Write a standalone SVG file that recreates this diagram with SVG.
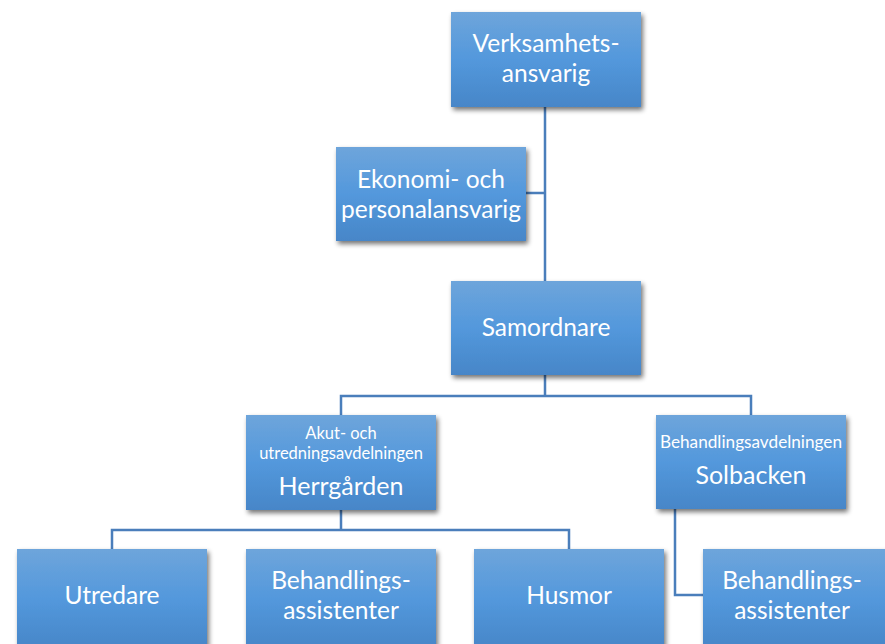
<svg xmlns="http://www.w3.org/2000/svg" width="885" height="644" viewBox="0 0 885 644">
<defs>
<linearGradient id="g" x1="0" y1="0" x2="0" y2="1">
<stop offset="0" stop-color="#6ea5db"/>
<stop offset="0.5" stop-color="#5398dc"/>
<stop offset="1" stop-color="#4786c8"/>
</linearGradient>
<filter id="sh" x="-10%" y="-10%" width="125%" height="130%">
<feGaussianBlur in="SourceAlpha" stdDeviation="2.5"/>
<feOffset dx="2" dy="3" result="b"/>
<feComponentTransfer><feFuncA type="linear" slope="0.55"/></feComponentTransfer>
<feMerge><feMergeNode/><feMergeNode in="SourceGraphic"/></feMerge>
</filter>
</defs>
<style>
.box{fill:url(#g);filter:url(#sh)}
.t{font-family:Lato,"Open Sans",sans-serif;fill:#fff;text-anchor:middle;font-size:24.5px}
.s{font-size:16.5px}
.m{font-size:25px}
.c{fill:none;stroke:#4a7ebb;stroke-width:2.5}
</style>
<rect width="885" height="644" fill="#fff"/>
<g id="connectors">
<path class="c" d="M545 107V281M526 193H545"/>
<path class="c" d="M545 375V396M341 415V396H751V415"/>
<path class="c" d="M341 510V530M112 549V530H569V549"/>
<path class="c" d="M675 509V595H703"/>
</g>
<g id="verksamhet">
<rect class="box" x="451" y="12" width="190" height="95"/>
<text class="t" x="546" y="52">Verksamhets-</text>
<text class="t" x="546" y="82">ansvarig</text>
</g>
<g id="ekonomi">
<rect class="box" x="336" y="147" width="190" height="94"/>
<text class="t" x="431" y="188">Ekonomi- och</text>
<text class="t" x="431" y="218">personalansvarig</text>
</g>
<g id="samordnare">
<rect class="box" x="451" y="281" width="190" height="94"/>
<text class="t" x="546" y="336">Samordnare</text>
</g>
<g id="herrgarden">
<rect class="box" x="246" y="415" width="190" height="95"/>
<text class="t s" x="341" y="439">Akut- och</text>
<text class="t s" x="341" y="459">utredningsavdelningen</text>
<text class="t m" x="341" y="495">Herrgården</text>
</g>
<g id="solbacken">
<rect class="box" x="656" y="415" width="190" height="94"/>
<text class="t s" x="751" y="448" style="font-size:17.2px">Behandlingsavdelningen</text>
<text class="t m" x="751" y="484">Solbacken</text>
</g>
<g id="utredare">
<rect class="box" x="17" y="549" width="190" height="100"/>
<text class="t" x="112" y="604">Utredare</text>
</g>
<g id="behandlings1">
<rect class="box" x="246" y="549" width="190" height="100"/>
<text class="t" x="341" y="589">Behandlings-</text>
<text class="t" x="341" y="619">assistenter</text>
</g>
<g id="husmor">
<rect class="box" x="474" y="549" width="190" height="100"/>
<text class="t" x="569" y="604">Husmor</text>
</g>
<g id="behandlings2">
<rect class="box" x="703" y="549" width="190" height="100"/>
<text class="t" x="792" y="589">Behandlings-</text>
<text class="t" x="792" y="619">assistenter</text>
</g>
</svg>
